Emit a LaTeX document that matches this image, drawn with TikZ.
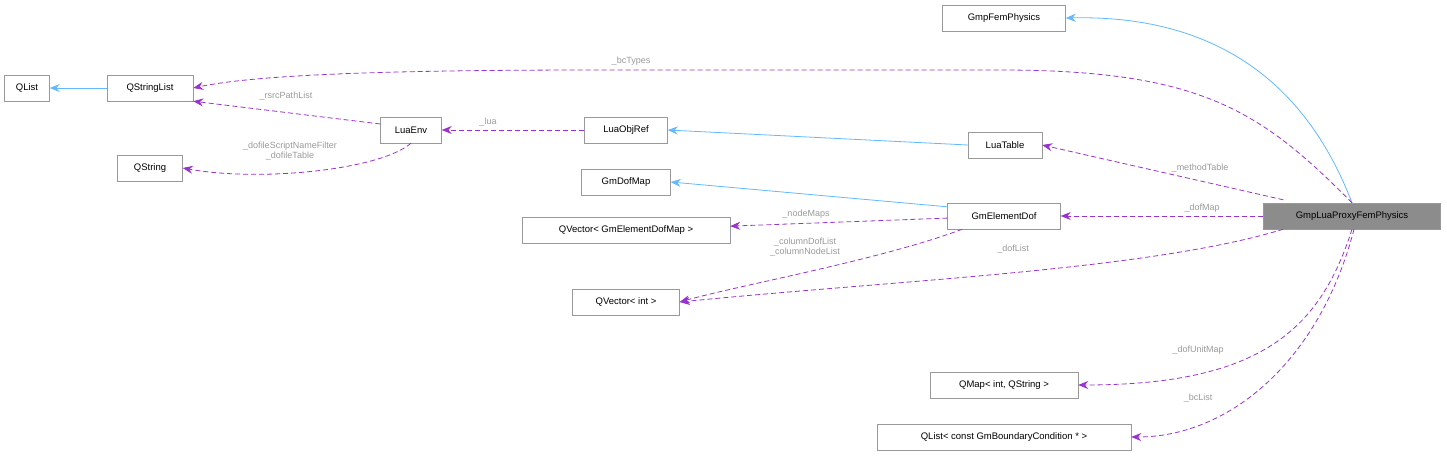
\documentclass[tikz,border=0pt]{standalone}
\usepackage{fontspec}
\setmainfont{Liberation Sans}
\usetikzlibrary{arrows.meta}
\definecolor{inh}{HTML}{63B8FF}
\definecolor{use}{HTML}{9A32CD}
\definecolor{lbl}{HTML}{9A9A9A}
\begin{document}
\begin{tikzpicture}[x=1pt,y=-1pt,
  box/.style={draw=black!40,fill=white,minimum height=26pt,inner xsep=6pt,font=\fontsize{9.5}{11}\selectfont,anchor=center},
  inhA/.style={draw=inh,line width=0.8pt,-{Stealth[length=10pt,width=8pt]}},
  useA/.style={draw=use,line width=0.8pt,dash pattern=on 5pt off 3pt,-{Stealth[length=10pt,width=8pt]}},
  lab/.style={text=lbl,font=\fontsize{9}{10}\selectfont,align=center,inner sep=1pt}]
\useasboundingbox (0,0) rectangle (1447,455);
\node[box,minimum width=123pt] (fem) at (1004,18) {GmpFemPhysics};
\node[box,minimum width=45pt] (qlist) at (27,88) {QList};
\node[box,minimum width=86pt] (qsl) at (150,88) {QStringList};
\node[box,minimum width=61pt] (luaenv) at (411,130) {LuaEnv};
\node[box,minimum width=83pt] (luaobj) at (626,130) {LuaObjRef};
\node[box,minimum width=74pt] (luatab) at (1005,145) {LuaTable};
\node[box,minimum width=65pt] (qstr) at (150,168) {QString};
\node[box,minimum width=89pt] (dofmap) at (626,182) {GmDofMap};
\node[box,minimum width=113pt] (eldof) at (1004,216) {GmElementDof};
\node[box,minimum width=208pt] (qvedm) at (626,230) {QVector< GmElementDofMap >};
\node[box,minimum width=177pt,fill=black!45] (proxy) at (1352,216) {GmpLuaProxyFemPhysics};
\node[box,minimum width=107pt] (qvint) at (626,302) {QVector< int >};
\node[box,minimum width=148pt] (qmap) at (1004,385) {QMap< int, QString >};
\node[box,minimum width=254pt] (qlbc) at (1004,437) {QList< const GmBoundaryCondition * >};

\draw[inhA] (proxy.north) .. controls (1320,120) and (1250,14) .. (fem.east);
\draw[inhA] (qsl) -- (qlist);
\draw[inhA] (luatab.west) -- (luaobj.east);
\draw[inhA] (eldof.north west) ++(0,4) -- (dofmap.east);

\draw[useA] (proxy.north) .. controls (1260,110) and (1200,70) .. (1000,70) -- (600,70) .. controls (400,70) and (260,74) .. (qsl.east);
\node[lab] at (631,61) {\_bcTypes};
\draw[useA] (luaenv.west) ++(0,-6) -- (qsl.south east);
\node[lab] at (286,96) {\_rsrcPathList};
\draw[useA] (luaobj) -- (luaenv);
\node[lab] at (488,122) {\_lua};
\draw[useA] (luaenv.south) .. controls (380,170) and (260,182) .. (qstr.east);
\node[lab] at (290,151) {\_dofileScriptNameFilter\\\_dofileTable};
\draw[useA] (proxy.north west) ++(20,-3) -- (luatab.east);
\node[lab] at (1200,168) {\_methodTable};
\draw[useA] (proxy) -- (eldof);
\node[lab] at (1202,208) {\_dofMap};
\draw[useA] (eldof) -- (qvedm);
\node[lab] at (806,214) {\_nodeMaps};
\draw[useA] (eldof.south west) ++(15,0) .. controls (880,260) and (740,285) .. (qvint.east);
\node[lab] at (805,247) {\_columnDofList\\\_columnNodeList};
\draw[useA] (proxy.south west) ++(20,0) .. controls (1150,270) and (900,280) .. (qvint.east);
\node[lab] at (1013,249) {\_dofList};
\draw[useA] (proxy.south) .. controls (1320,330) and (1260,385) .. (qmap.east);
\node[lab] at (1198,350) {\_dofUnitMap};
\draw[useA] (proxy.south) ++(2,0) .. controls (1320,360) and (1230,437) .. (qlbc.east);
\node[lab] at (1198,398) {\_bcList};
\end{tikzpicture}
\end{document}
